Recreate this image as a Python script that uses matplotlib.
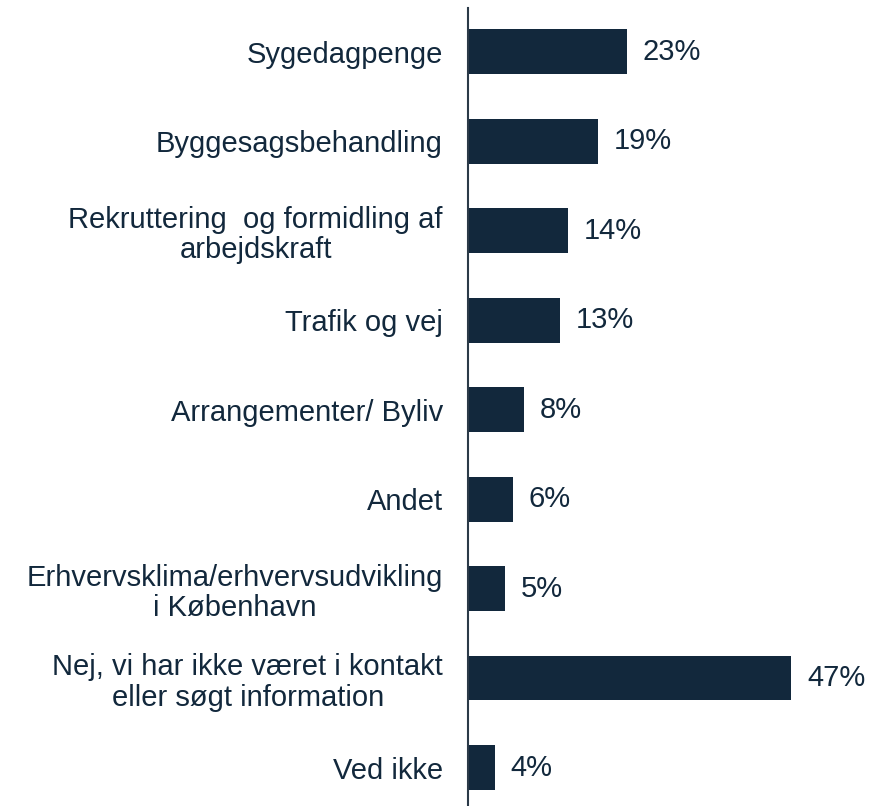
import matplotlib
matplotlib.use("Agg")
import matplotlib.pyplot as plt

categories = [
    "Sygedagpenge",
    "Byggesagsbehandling",
    "Rekruttering  og formidling af\narbejdskraft",
    "Trafik og vej",
    "Arrangementer/ Byliv",
    "Andet",
    "Erhvervsklima/erhvervsudvikling\ni København",
    "Nej, vi har ikke været i kontakt\neller søgt information",
    "Ved ikke",
]
# bar lengths as measured, labels as printed
values = [23.1, 18.9, 14.5, 13.4, 8.1, 6.5, 5.4, 47.0, 3.9]
value_labels = ["23%", "19%", "14%", "13%", "8%", "6%", "5%", "47%", "4%"]

bar_color = "#12283c"
text_color = "#12283c"

plt.rcParams["font.family"] = ["Liberation Sans", "DejaVu Sans"]

W, H = 876, 806
fig = plt.figure(figsize=(W / 100, H / 100), dpi=100)
ax = fig.add_axes([468 / W, 0, 408 / W, 798 / H])

pos = list(range(len(categories)))
ax.barh(pos, values, height=0.5, color=bar_color)

px_per_pct = 6.88
ax.set_xlim(0, 408 / px_per_pct)
ax.set_ylim(8.43, -0.49)

for y, v, lab in zip(pos, values, value_labels):
    ax.annotate(lab, (v, y), xytext=(11.5, 0), textcoords="offset points",
                ha="left", va="center", fontsize=21, color=text_color)

ax.set_yticks(pos)
ax.set_yticklabels(categories, fontsize=21, color=text_color,
                   multialignment="center", linespacing=1.12)
ax.tick_params(axis="y", length=0, pad=18)
ax.set_xticks([])

for s in ["top", "right", "bottom"]:
    ax.spines[s].set_visible(False)
ax.spines["left"].set_color("#2b3a48")
ax.spines["left"].set_linewidth(1.5)

fig.savefig("out.png", dpi=100)
